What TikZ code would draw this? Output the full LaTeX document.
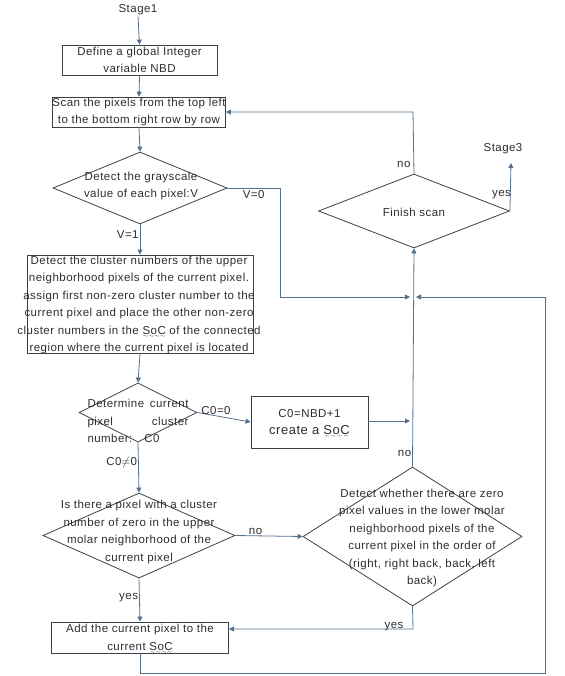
\documentclass[tikz,border=0pt]{standalone}
\usepackage{fontspec}
\setmainfont{Liberation Sans}[LetterSpace=4]
\usetikzlibrary{shapes.geometric,arrows.meta}
\definecolor{linec}{RGB}{84,112,142}
\definecolor{boxc}{RGB}{60,64,70}
\definecolor{txtc}{RGB}{45,45,45}
\newcommand{\wavyu}[1]{\leavevmode\setbox0\hbox{#1}\rlap{\raisebox{-3.2pt}[0pt][0pt]{\hbox to\wd0{\fontsize{4.5}{5}\selectfont\xleaders\hbox{$\sim$}\hfill}}}\box0\relax}
\begin{document}
\begin{tikzpicture}[x=1pt,y=-1pt,
  every node/.style={font=\fontsize{11.5}{17.5}\selectfont, text=txtc},
  procbox/.style={draw=boxc, line width=0.8pt, rectangle, inner sep=0pt, align=center},
  decis/.style={draw=boxc, line width=0.8pt, diamond, inner sep=0pt},
  conn/.style={draw=linec, line width=0.8pt},
  arr/.style={conn, -{Triangle[width=5pt,length=5pt]}},
  lbl/.style={inner sep=1pt}
]
\useasboundingbox (0,0) rectangle (564,676);

% nodes
\node[lbl] (stage1) at (138,10) {Stage1};
\node[procbox, minimum width=155pt, minimum height=30pt] (define) at (139.5,60)
  {Define a global Integer\\variable NBD};
\node[procbox, minimum width=172pt, minimum height=30pt] (scan) at (139,112)
  {Scan the pixels from the top left\\to the bottom right row by row};
\node[decis, minimum width=174pt, minimum height=72pt] (gray) at (140,188) {};
\node[align=center] (graytxt) at (141,186) {Detect the grayscale\\value of each pixel:V};
\node[procbox, minimum width=226pt, minimum height=98pt] (cluster) at (140,304) {};
\node[align=center, inner sep=0pt] (clustertxt) at (139,305)
  {Detect the cluster numbers of the upper\\neighborhood pixels of the current pixel.\\assign first non-zero cluster number to the\\current pixel and place the other non-zero\\cluster numbers in the \wavyu{SoC} of the connected\\region where the current pixel is located};
\node[decis, minimum width=118pt, minimum height=59pt] (cnum) at (138,412.5) {};
\node[align=left, inner sep=0pt] (cnumtxt) at (138,421)
  {\hbox to 101pt{Determine\hfill current}\\\hbox to 101pt{pixel\hfill cluster}\\\hbox to 101pt{number:\hspace{12pt}C0\hfill}};
\node[procbox, minimum width=117pt, minimum height=52pt] (newsoc) at (309.5,422)
  {C0=NBD+1\\[-1pt]{\fontsize{13}{16}\selectfont create a \wavyu{SoC}}};
\node[decis, minimum width=191pt, minimum height=74pt] (finish) at (414,211) {};
\node (finishtxt) at (414,212) {Finish scan};
\node[lbl] (stage3) at (503,149) {Stage3};
\node[decis, minimum width=192pt, minimum height=85pt] (upper) at (139,535.5) {};
\node[align=center] (uppertxt) at (139,532)
  {Is there a pixel with a cluster\\number of zero in the upper\\molar neighborhood of the\\current pixel};
\node[decis, minimum width=219pt, minimum height=139pt] (lower) at (412.5,536.5) {};
\node[align=center] (lowertxt) at (422,538)
  {Detect whether there are zero\\pixel values in the lower molar\\neighborhood pixels of the\\current pixel in the order of\\(right, right back, back, left\\back)};
\node[procbox, minimum width=177pt, minimum height=31pt] (addpix) at (140,637.5)
  {Add the current pixel to the\\current \wavyu{SoC}};

% junction coordinates
\coordinate (jA) at (413,297);
\coordinate (jB) at (413,421);
\coordinate (bottomR) at (545,673);
\coordinate (rightR) at (545,297);

% connectors
\draw[arr] (stage1.south) -- (define.north);
\draw[arr] (define.south) -- (scan.north);
\draw[arr] (scan.south) -- (gray.north);
\draw[arr] (gray.south) -- node[lbl, left, pos=0.35] {V=1} (cluster.north);
\draw[arr] (gray.east) -- node[lbl, below, pos=0.5, yshift=-1pt] {V=0} (280,188) -- (280,297) -- ([xshift=-3pt]jA);
\draw[arr] (cluster.south) -- (cnum.north);
\draw[arr] (cnum.east) -- node[lbl, above, pos=0.35] {C0=0} (newsoc.west);
\draw[arr] (newsoc.east |- jB) -- ([xshift=-3pt]jB);
\draw[arr] (cnum.south) -- node[lbl, left, pos=0.4] {C0$\neq$0} (upper.north);
\draw[arr] (upper.east) -- node[lbl, above, pos=0.3] {no} (lower.west);
\draw[arr] (upper.south) -- node[lbl, left, pos=0.45] {yes} (addpix.north);
\draw[arr] (lower.south) -- (413,629) -- (addpix.east |- 0,629);
\node[lbl] (yeslbl) at (394,627) {yes};
\draw[arr] (lower.north) -- node[lbl, pos=0.06, left] {no} (finish.south);
\draw[arr] (addpix.south) -- (140,673) -- (bottomR) -- (rightR) -- ([xshift=3pt]jA);
\draw[arr] (finish.north) -- node[lbl, pos=0.15, left, xshift=-2pt] {no} (413,112) -- (scan.east |- 0,112);
\draw[arr] (finish.east) -- node[lbl, pos=0.35, left, xshift=2pt] {yes} (511,163);
\end{tikzpicture}
\end{document}
